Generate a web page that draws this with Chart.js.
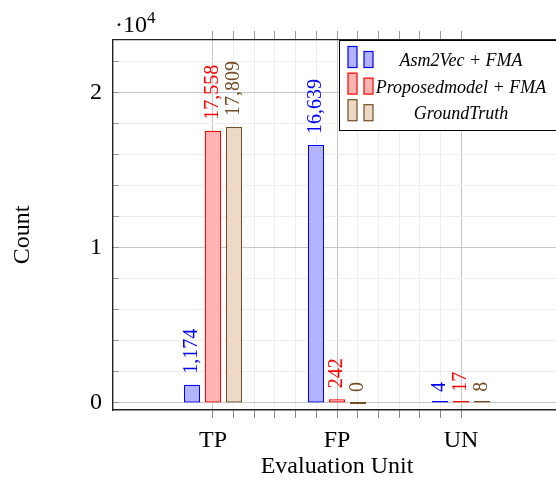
<!DOCTYPE html>
<html>
<head>
<meta charset="utf-8">
<script src="https://cdn.jsdelivr.net/npm/chart.js@4"></script>
<style>
  html, body { margin: 0; padding: 0; background: #fff; overflow: hidden; }
  #wrap { width: 556px; height: 481px; overflow: hidden; }
</style>
</head>
<body>
<div id="wrap"><canvas id="chart" width="561" height="481"></canvas></div>
<script>
// data
const categories = ['TP', 'FP', 'UN'];
const seriesNames = ['Asm2Vec + FMA', 'Proposedmodel + FMA', 'GroundTruth'];
const asm2vecValues = [1174, 16639, 4];
const proposedValues = [17558, 242, 17];
const groundTruthValues = [17809, 0, 8];
const yMajorTicks = [0, 10000, 20000];
const yTickLabels = ['0', '1', '2'];

const FONT = "'Liberation Serif', 'Times New Roman', serif";
const X_MIN = -0.806, X_MAX = 2.806;
const Y_MIN = -452, Y_MAX = 23419;
const X_MINOR = 6;   // 5 minor ticks between categories

const strokes = ['#0000ff', '#ff0000', '#734d26'];
const fills = ['#b3b3ff', '#ffb3b3', '#ecd9c6'];

function xMinorTicks() {
  const out = [];
  for (let k = 0; k <= (categories.length - 1) * X_MINOR; k++) out.push({ value: k / X_MINOR });
  return out;
}
function yMinorTicks() {
  const out = [];
  for (let v = 0; v <= 22000; v += 2000) out.push({ value: v });
  return out;
}
const isWhole = v => Math.abs(v - Math.round(v)) < 1e-6;

function makeDataset(i, values) {
  return {
    label: seriesNames[i],
    data: values.map((v, k) => ({ x: k, y: v })),
    backgroundColor: fills[i],
    borderColor: strokes[i],
    borderWidth: 1.2,
    borderSkipped: false,
    minBarLength: 2,
    // the bar ruler is the minor tick gap, so a group spans about 3 of them
    barPercentage: 0.77,
    categoryPercentage: 3.05
  };
}

// rotated value labels above each bar
const valueLabels = {
  id: 'valueLabels',
  afterDatasetsDraw(chart) {
    const ctx = chart.ctx;
    const yScale = chart.scales.y;
    chart.data.datasets.forEach((ds, di) => {
      const meta = chart.getDatasetMeta(di);
      meta.data.forEach((bar, i) => {
        const v = ds.data[i].y;
        ctx.save();
        ctx.translate(bar.x + 5, yScale.getPixelForValue(v) - 11);
        ctx.rotate(-Math.PI / 2);
        ctx.font = '20px ' + FONT;
        ctx.fillStyle = ds.borderColor;
        ctx.textAlign = 'left';
        ctx.textBaseline = 'alphabetic';
        ctx.fillText(v.toLocaleString('en-US'), 0, 0);
        ctx.restore();
      });
    });
  }
};

// pgfplots style legend in the upper right corner
const legendBox = {
  id: 'legendBox',
  afterDraw(chart) {
    const ctx = chart.ctx;
    const area = chart.chartArea;
    const left = 339.5, top = area.top + 0.5;
    const right = area.right, bottom = 130.5;
    ctx.save();
    ctx.fillStyle = '#fff';
    ctx.fillRect(left, top, right - left, bottom - top);
    ctx.strokeStyle = '#000';
    ctx.lineWidth = 1;
    ctx.strokeRect(left, top, right - left, bottom - top);
    chart.data.datasets.forEach((ds, i) => {
      const base = 67.5 + i * 26.6;
      ctx.fillStyle = ds.backgroundColor;
      ctx.strokeStyle = ds.borderColor;
      ctx.lineWidth = 1.2;
      ctx.fillRect(348, base - 21, 9, 21);
      ctx.strokeRect(348, base - 21, 9, 21);
      ctx.fillRect(364, base - 16, 9, 16);
      ctx.strokeRect(364, base - 16, 9, 16);
      ctx.fillStyle = '#000';
      ctx.font = 'italic 18px ' + FONT;
      ctx.textAlign = 'center';
      ctx.textBaseline = 'middle';
      ctx.fillText(ds.label, 461, base - 6);
    });
    ctx.restore();
  }
};

// ·10^4 multiplier and the y title, which sits a bit below the axis middle
const yAnnotations = {
  id: 'yAnnotations',
  afterDraw(chart) {
    const ctx = chart.ctx;
    ctx.save();
    ctx.fillStyle = '#000';
    ctx.textBaseline = 'alphabetic';
    ctx.textAlign = 'left';
    ctx.font = '24px ' + FONT;
    ctx.fillText('\u00b710', 115, 32);
    ctx.font = '17px ' + FONT;
    ctx.fillText('4', 147, 22.5);

    ctx.translate(29, 235);
    ctx.rotate(-Math.PI / 2);
    ctx.font = '24px ' + FONT;
    ctx.textAlign = 'center';
    ctx.fillText('Count', 0, 0);
    ctx.restore();
  }
};

new Chart(document.getElementById('chart'), {
  type: 'bar',
  data: {
    datasets: [
      makeDataset(0, asm2vecValues),
      makeDataset(1, proposedValues),
      makeDataset(2, groundTruthValues)
    ]
  },
  options: {
    responsive: false,
    animation: false,
    layout: { padding: 0 },
    plugins: {
      legend: { display: false },
      tooltip: { enabled: false }
    },
    scales: {
      x: {
        type: 'linear',
        position: 'bottom',
        offset: false,
        min: X_MIN,
        max: X_MAX,
        afterBuildTicks: s => { s.ticks = xMinorTicks(); },
        afterFit: s => { s.height = 71; },
        ticks: {
          autoSkip: false,
          maxRotation: 0,
          padding: 8,
          color: '#000',
          font: { family: FONT, size: 24 },
          callback: v => isWhole(v) ? categories[Math.round(v)] : ''
        },
        grid: {
          offset: false,
          color: c => (c.tick && isWhole(c.tick.value)) ? '#c6c6c6' : '#ededed',
          tickColor: '#888',
          tickLength: 8
        },
        border: { color: '#222', width: 1.4 },
        title: {
          display: true,
          text: 'Evaluation Unit',
          color: '#000',
          font: { family: FONT, size: 24 },
          padding: { top: 0, bottom: 0 }
        }
      },
      xTop: {
        type: 'linear',
        position: 'top',
        offset: false,
        min: X_MIN,
        max: X_MAX,
        afterBuildTicks: s => { s.ticks = xMinorTicks(); },
        afterFit: s => { s.height = 40; },
        ticks: { display: false },
        grid: { offset: false, drawOnChartArea: false, tickColor: '#999', tickLength: 9 },
        border: { color: '#222', width: 1.2 }
      },
      y: {
        type: 'linear',
        min: Y_MIN,
        max: Y_MAX,
        afterBuildTicks: s => { s.ticks = yMinorTicks(); },
        afterFit: s => { s.width = 113; },
        ticks: {
          padding: 17,
          color: '#000',
          font: { family: FONT, size: 24 },
          callback: v => {
            const k = yMajorTicks.indexOf(v);
            return k >= 0 ? yTickLabels[k] : '';
          }
        },
        grid: {
          color: c => (c.tick && yMajorTicks.includes(c.tick.value)) ? '#c6c6c6' : '#ededed',
          tickColor: '#999',
          tickLength: -6   // ticks point into the plot, as in pgfplots
        },
        border: { color: '#222', width: 1.4 }
      }
    }
  },
  plugins: [valueLabels, legendBox, yAnnotations]
});
</script>
</body>
</html>
